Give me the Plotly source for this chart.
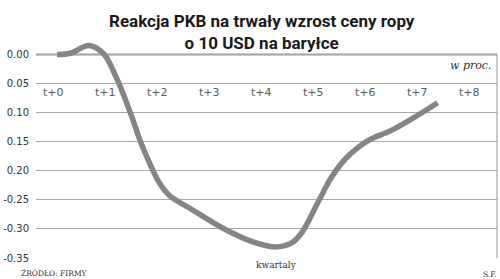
import plotly.graph_objects as go

title_lines = ["Reakcja PKB na trwały wzrost ceny ropy", "o 10 USD na baryłce"]
categories = ["t+0", "t+1", "t+2", "t+3", "t+4", "t+5", "t+6", "t+7", "t+8"]
# curve (x in quarters, y in %)
curve_x = [0.06, 0.32, 0.67, 0.95, 1.20, 1.47, 1.66, 1.85, 2.04, 2.23, 2.61, 3.24,
           3.82, 4.26, 4.58, 4.77, 5.10, 5.34, 5.63, 6.05, 6.49, 7.00, 7.39]
curve_y = [0.0, 0.002, 0.0155, 0.002, -0.039, -0.0995, -0.148, -0.188, -0.222, -0.243,
           -0.264, -0.298, -0.322, -0.331, -0.324, -0.307, -0.252, -0.212, -0.178,
           -0.148, -0.131, -0.105, -0.083]
y_ticks = [0.0, -0.05, -0.10, -0.15, -0.20, -0.25, -0.30, -0.35]
y_ticktext = ["0.00", "0.05", "0.10", "0.15", "0.20", "-0.25", "-0.30", "-0.35"]
unit_label = "w proc."
x_title = "kwartaly"
source = "ŹRÓDŁO: FIRMY"
author = "S.F."

W, H = 500, 279
ML, MR, MT, MB = 32, 3, 36.5, 21
PH = H - MT - MB

def py(p):
    return (H - MB - p) / PH

def px(p):
    return (p - ML) / (W - ML - MR)

fig = go.Figure()
fig.add_trace(go.Scatter(x=curve_x, y=curve_y, mode="lines",
                         line=dict(color="#858585", width=5.5, shape="spline", smoothing=1.0),
                         hoverinfo="skip", showlegend=False))

annotations = [dict(text="<b>%s</b>" % "<br>".join(title_lines), xref="paper", yref="paper",
                    x=px(259.5), y=py(31.5), xanchor="center", yanchor="middle",
                    showarrow=False, align="center",
                    font=dict(family="Roboto", size=17, color="#1a1a1a"))]
for i, c in enumerate(categories):
    annotations.append(dict(text=c, x=i, y=-0.066, xref="x", yref="y", showarrow=False,
                            xanchor="center", yanchor="middle",
                            font=dict(family="DejaVu Sans", size=11, color="#5a5a5a")))
annotations.append(dict(text="<i>%s</i>" % unit_label, xref="paper", yref="paper",
                        x=px(494), y=py(65), xanchor="right", yanchor="middle",
                        showarrow=False, font=dict(family="DejaVu Serif", size=11, color="#333")))
annotations.append(dict(text=x_title, xref="paper", yref="paper",
                        x=px(252), y=py(265), xanchor="left", yanchor="middle",
                        showarrow=False, font=dict(family="DejaVu Serif", size=9, color="#333")))
annotations.append(dict(text=source, xref="paper", yref="paper",
                        x=px(15), y=py(274), xanchor="left", yanchor="middle",
                        showarrow=False, font=dict(family="DejaVu Serif", size=7.5, color="#333")))
annotations.append(dict(text=author, xref="paper", yref="paper",
                        x=px(499), y=py(275), xanchor="right", yanchor="middle",
                        showarrow=False, font=dict(family="DejaVu Serif", size=7.5, color="#333")))

shapes = [
    dict(type="line", xref="paper", yref="y", x0=1, x1=1, y0=-0.35, y1=0,
         line=dict(color="#999", width=1)),
    dict(type="line", xref="paper", yref="y", x0=0, x1=1, y0=0, y1=0,
         line=dict(color="#333", width=1.5), layer="below"),
]

fig.update_layout(
    width=W, height=H, margin=dict(l=ML, r=MR, t=MT, b=MB),
    paper_bgcolor="white", plot_bgcolor="white",
    xaxis=dict(range=[-0.344, 8.534], showgrid=False, zeroline=False, showticklabels=False,
               showline=False, fixedrange=True),
    yaxis=dict(range=[-0.35, 0.03], tickvals=y_ticks, ticktext=y_ticktext,
               showgrid=True, gridcolor="#a8a8a8", gridwidth=1, zeroline=False,
               showline=False, ticks="", ticklabelstandoff=6,
               tickfont=dict(family="DejaVu Sans", size=10, color="#333")),
    annotations=annotations, shapes=shapes, showlegend=False,
)
fig.write_html("out.html")
